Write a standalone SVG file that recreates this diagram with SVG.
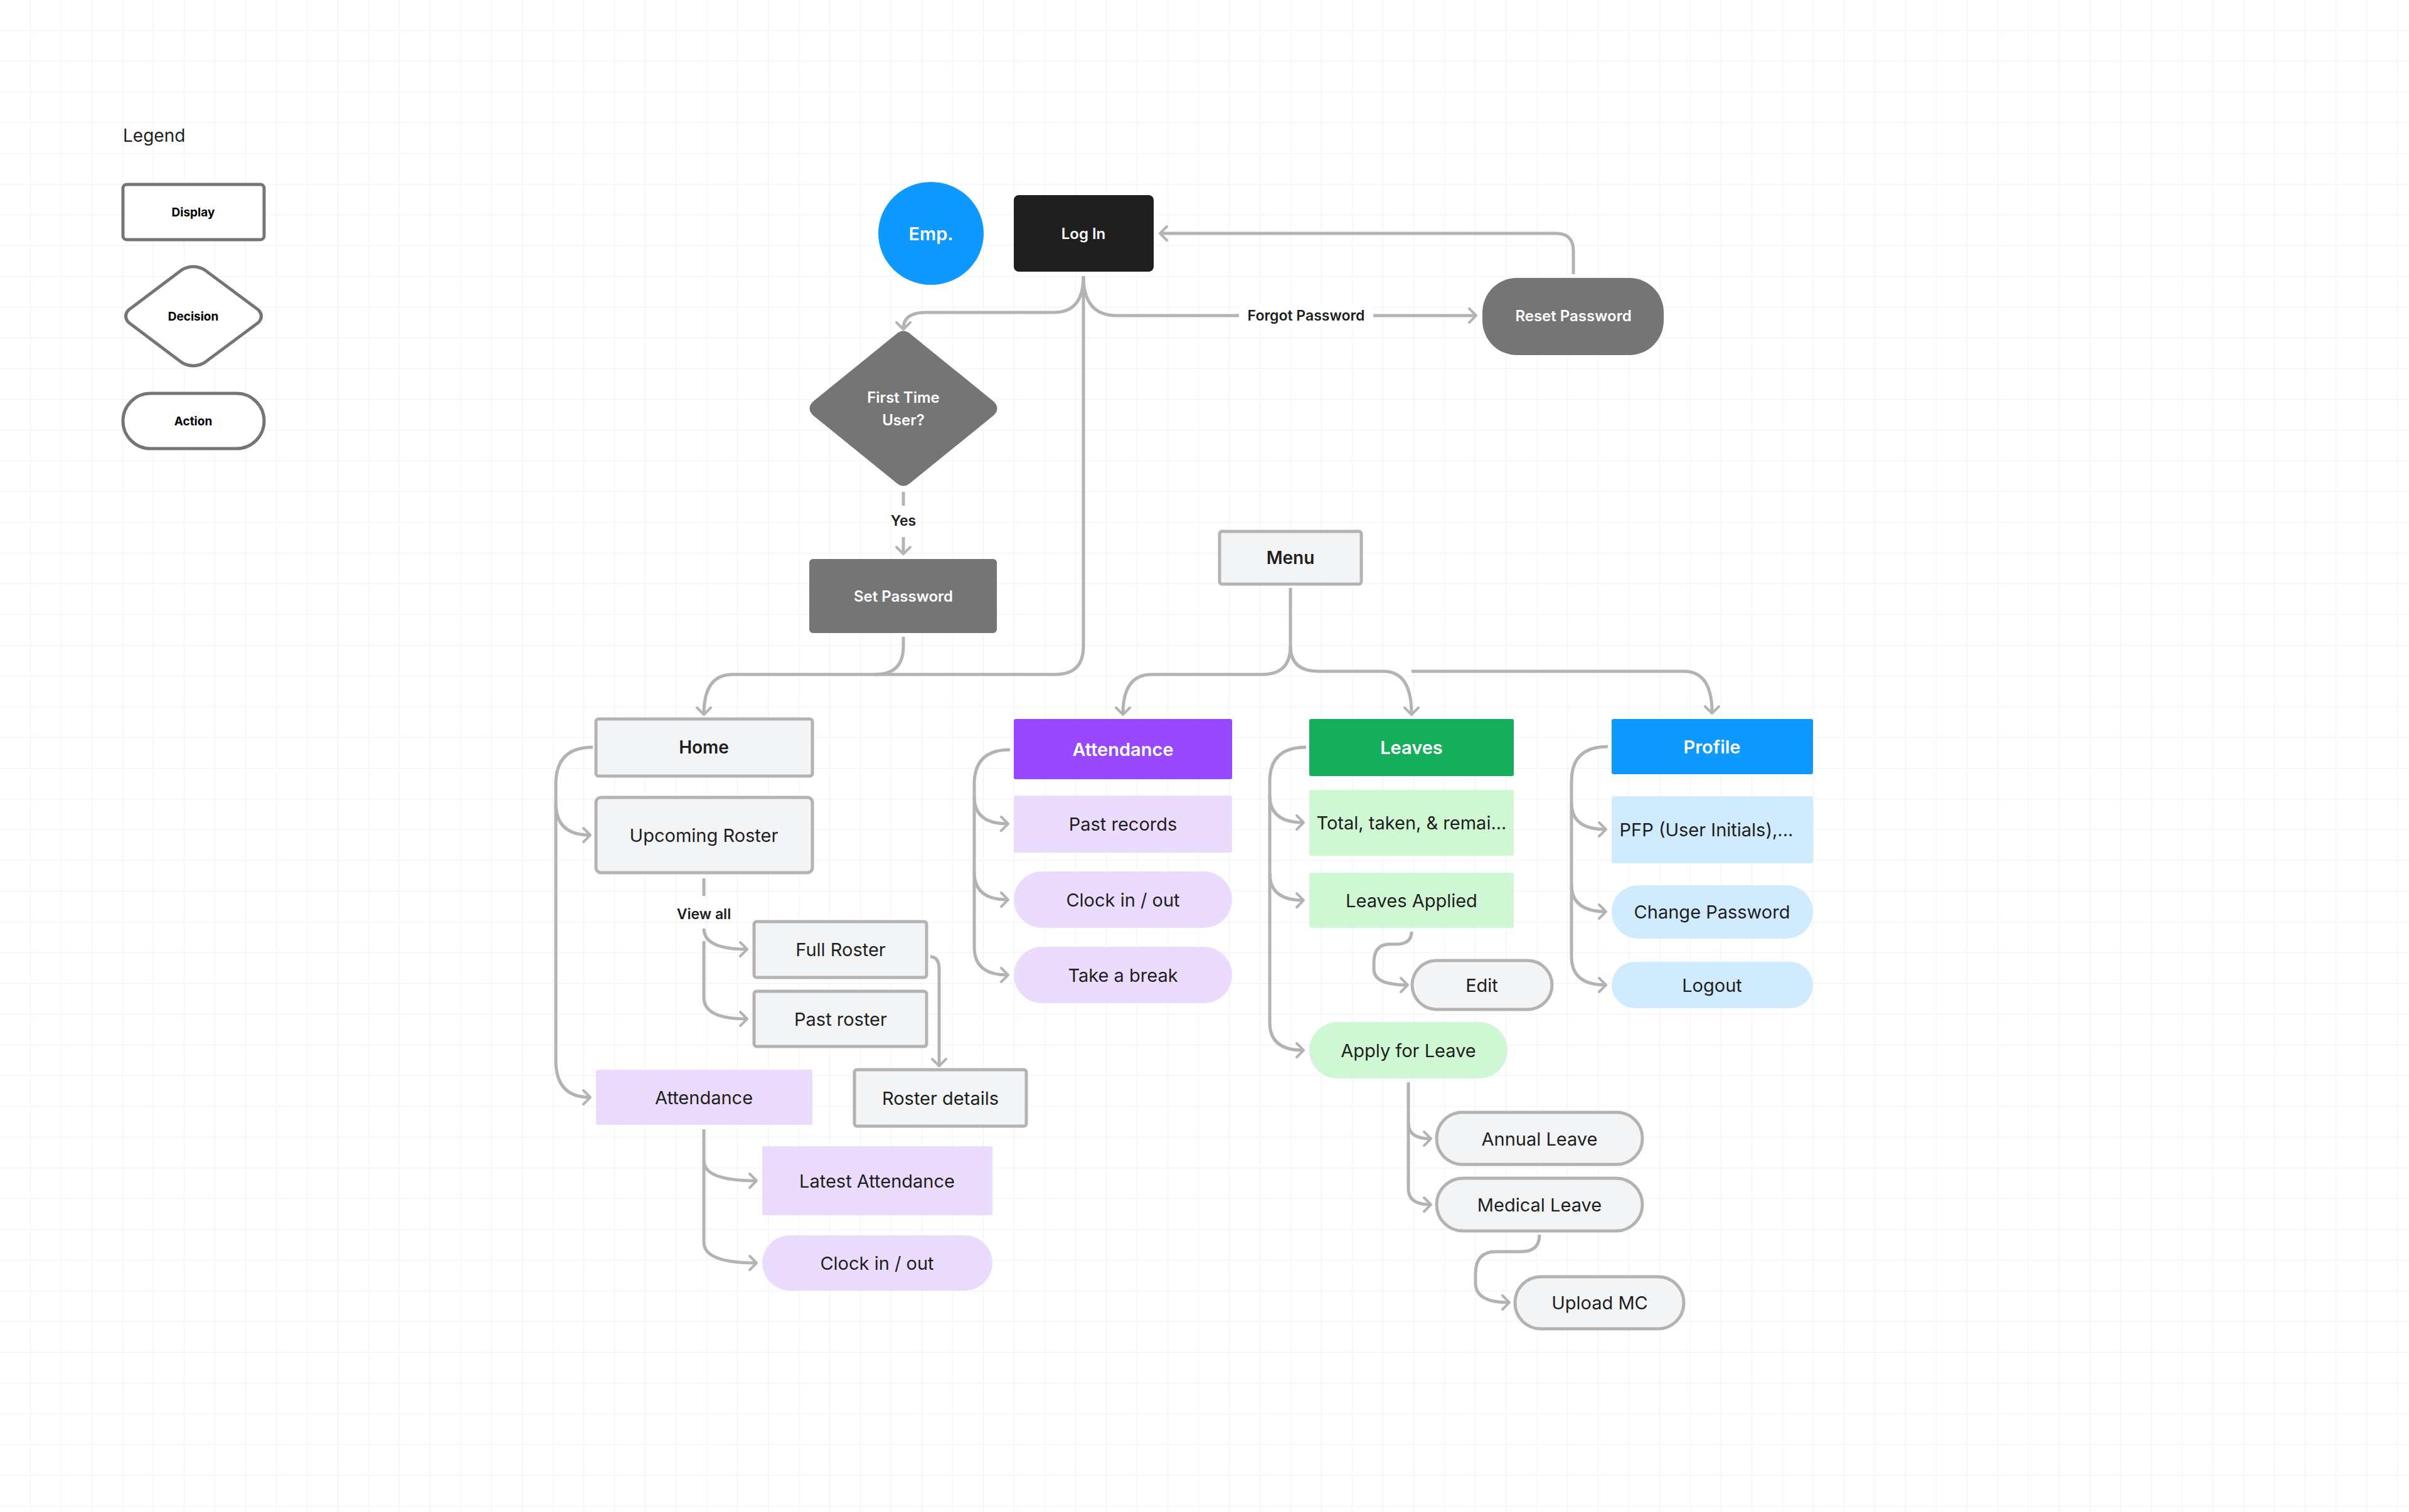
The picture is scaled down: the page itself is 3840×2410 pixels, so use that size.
<svg xmlns="http://www.w3.org/2000/svg" width="3840" height="2410" viewBox="0 0 3840 2410">
<defs>
<pattern id="grid" width="49" height="49" patternUnits="userSpaceOnUse"><path d="M49,0 V49 H0" fill="none" stroke="#f2f2f2" stroke-width="2"/></pattern>
<marker id="ar" markerWidth="30" markerHeight="30" refX="14" refY="15" orient="auto" markerUnits="userSpaceOnUse"><path d="M4,4 L15,15 L4,26" fill="none" stroke="#b3b3b3" stroke-width="4" stroke-linecap="round" stroke-linejoin="round"/></marker>
<style>
text{font-family:Inter,"Liberation Sans",sans-serif;text-anchor:middle;dominant-baseline:central}
.c{fill:none;stroke:#b3b3b3;stroke-width:5}
.ca{fill:none;stroke:#b3b3b3;stroke-width:5;marker-end:url(#ar)}
.g{fill:#f3f4f5;stroke:#b3b3b3;stroke-width:5}
.dk{fill:#757575}
.t{font-size:29px;fill:#1e1e1e}
.tb{font-size:28px;font-weight:600;fill:#1e1e1e}
.tw{font-size:24px;font-weight:600;fill:#fff}
.th{font-size:29px;font-weight:600;fill:#fff}
.lg{fill:#fff;stroke:#757575;stroke-width:5}
.lt{font-size:19px;font-weight:700;fill:#000}
.lbl{font-size:23px;font-weight:600;fill:#1e1e1e}
</style>
</defs>
<rect width="3840" height="2410" fill="#fff"/>
<rect width="3840" height="2410" fill="url(#grid)"/>

<g id="legend">
<text x="196" y="216" style="text-anchor:start;font-size:28px;fill:#1e1e1e">Legend</text>
<rect class="lg" x="196" y="294" width="225" height="88" rx="6"/><text class="lt" x="308" y="338">Display</text>
<path class="lg" d="M290,430 Q308,420 326,430 L412,494 Q421,504 412,514 L326,578 Q308,588 290,578 L205,514 Q196,504 205,494 Z"/><text class="lt" x="308" y="504">Decision</text>
<rect class="lg" x="196" y="627" width="225" height="88" rx="44"/><text class="lt" x="308" y="671">Action</text>
</g>

<g id="connectors">
<path class="ca" d="M2508,437 V400 Q2508,372 2480,372 H1850"/>
<path class="ca" d="M1727,440 Q1727,498 1680,498 H1476 Q1440,498 1440,524"/>
<path class="ca" d="M1727,440 Q1727,503 1780,503 H2352"/>
<path class="c" d="M1440,784 V806"/>
<path class="ca" d="M1440,856 V882"/>
<path class="ca" d="M1727,440 V1030 Q1727,1075 1682,1075 H1168 Q1122,1075 1122,1138"/>
<path class="c" d="M1440,1015 V1030 Q1440,1075 1395,1075"/>
<path class="ca" d="M2057,937 V1030 Q2057,1075 2012,1075 H1836 Q1790,1075 1790,1138"/>
<path class="ca" d="M2057,1030 Q2057,1070 2102,1070 H2205 Q2250,1070 2250,1138"/>
<path class="ca" d="M2250,1070 H2684 Q2729,1070 2729,1136"/>
<path class="ca" d="M945,1191 Q886,1191 886,1250 V1690 Q886,1749 940,1749"/>
<path class="ca" d="M886,1280 Q886,1331 940,1331"/>
<path class="c" d="M1122,1400 V1428"/>
<path class="ca" d="M1122,1482 V1480 Q1122,1513 1190,1513"/>
<path class="ca" d="M1122,1500 V1590 Q1122,1624 1190,1624"/>
<path class="ca" d="M1483,1525 Q1497,1525 1497,1545 V1698"/>
<path class="ca" d="M1122,1800 V1850 Q1122,1882 1205,1882"/>
<path class="ca" d="M1122,1850 V1980 Q1122,2013 1205,2013"/>
<path class="ca" d="M1610,1195 Q1553,1195 1553,1250 V1510 Q1553,1554 1606,1554"/>
<path class="ca" d="M1553,1270 Q1553,1313 1606,1313"/>
<path class="ca" d="M1553,1390 Q1553,1434 1606,1434"/>
<path class="ca" d="M2082,1191 Q2024,1191 2024,1245 V1630 Q2024,1674 2077,1674"/>
<path class="ca" d="M2024,1268 Q2024,1311 2077,1311"/>
<path class="ca" d="M2024,1392 Q2024,1435 2077,1435"/>
<path class="ca" d="M2250,1485 Q2250,1505 2225,1505 H2215 Q2190,1505 2190,1535 V1545 Q2190,1570 2243,1570"/>
<path class="ca" d="M2245,1725 V1790 Q2245,1815 2280,1815"/>
<path class="ca" d="M2245,1790 V1895 Q2245,1920 2280,1920"/>
<path class="ca" d="M2454,1968 Q2454,1995 2425,1995 H2385 Q2352,1995 2352,2030 V2045 Q2352,2076 2405,2076"/>
<path class="ca" d="M2563,1190 Q2505,1190 2505,1245 V1525 Q2505,1570 2559,1570"/>
<path class="ca" d="M2505,1280 Q2505,1322 2559,1322"/>
<path class="ca" d="M2505,1410 Q2505,1453 2559,1453"/>
<rect x="1975" y="485" width="214" height="36" fill="#fff"/>
<text class="lbl" x="2082" y="503">Forgot Password</text>
<text class="lbl" x="1440" y="830">Yes</text>
<text class="lbl" x="1122" y="1457">View all</text>
</g>

<g id="emp"><ellipse cx="1484" cy="372" rx="84" ry="82" fill="#0d99ff"/><text class="th" x="1484" y="372">Emp.</text></g>
<g id="login"><rect x="1616" y="311" width="223" height="122" rx="8" fill="#1e1e1e"/><text class="tw" x="1727" y="372">Log In</text></g>
<g id="reset"><rect class="dk" x="2363" y="443" width="289" height="123" rx="55"/><text class="tw" x="2508" y="503">Reset Password</text></g>
<g id="firsttime"><path class="dk" d="M1428,533 Q1440,522 1452,533 L1584,640 Q1595,651 1584,662 L1452,769 Q1440,780 1428,769 L1296,662 Q1285,651 1296,640 Z"/><text class="tw" x="1440" y="633">First Time</text><text class="tw" x="1440" y="669">User?</text></g>
<g id="setpw"><rect class="dk" x="1290" y="891" width="299" height="118" rx="6"/><text class="tw" x="1440" y="950">Set Password</text></g>
<g id="menu"><rect class="g" x="1944" y="847" width="226" height="84" rx="4"/><text class="tb" x="2057" y="889">Menu</text></g>

<g id="home"><rect class="g" x="950" y="1146" width="345" height="91" rx="4"/><text class="tb" x="1122" y="1191">Home</text></g>
<g id="upcoming"><rect class="g" x="950" y="1271" width="345" height="120" rx="8"/><text class="t" x="1122" y="1331">Upcoming Roster</text></g>
<g id="fullroster"><rect class="g" x="1202" y="1469" width="275" height="89" rx="4"/><text class="t" x="1340" y="1513">Full Roster</text></g>
<g id="pastroster"><rect class="g" x="1202" y="1580" width="275" height="88" rx="4"/><text class="t" x="1340" y="1624">Past roster</text></g>
<g id="rosterdetails"><rect class="g" x="1362" y="1705" width="274" height="90" rx="4"/><text class="t" x="1499" y="1750">Roster details</text></g>
<g id="homeatt"><rect x="950" y="1705" width="345" height="88" rx="3" fill="#ebdcfd"/><text class="t" x="1122" y="1749">Attendance</text></g>
<g id="latest"><rect x="1215" y="1827" width="367" height="110" rx="3" fill="#ebdcfd"/><text class="t" x="1398" y="1882">Latest Attendance</text></g>
<g id="homeclock"><rect x="1215" y="1969" width="367" height="88" rx="44" fill="#ebdcfd"/><text class="t" x="1398" y="2013">Clock in / out</text></g>

<g id="attendance"><rect x="1616" y="1146" width="348" height="96" rx="3" fill="#9747ff"/><text class="th" x="1790" y="1194">Attendance</text></g>
<g id="pastrecords"><rect x="1616" y="1268" width="348" height="91" rx="3" fill="#ebdcfd"/><text class="t" x="1790" y="1313">Past records</text></g>
<g id="clock"><rect x="1616" y="1389" width="348" height="90" rx="45" fill="#ebdcfd"/><text class="t" x="1790" y="1434">Clock in / out</text></g>
<g id="break"><rect x="1616" y="1509" width="348" height="90" rx="45" fill="#ebdcfd"/><text class="t" x="1790" y="1554">Take a break</text></g>

<g id="leaves"><rect x="2087" y="1146" width="326" height="91" rx="3" fill="#14ae5c"/><text class="th" x="2250" y="1191">Leaves</text></g>
<g id="total"><rect x="2087" y="1259" width="326" height="105" rx="3" fill="#cff7d3"/><text class="t" x="2250" y="1311">Total, taken, &amp; remai...</text></g>
<g id="applied"><rect x="2087" y="1391" width="326" height="88" rx="3" fill="#cff7d3"/><text class="t" x="2250" y="1435">Leaves Applied</text></g>
<g id="edit"><rect class="g" x="2251" y="1531" width="223" height="78" rx="39"/><text class="t" x="2362" y="1570">Edit</text></g>
<g id="apply"><rect x="2087" y="1629" width="316" height="90" rx="45" fill="#cff7d3"/><text class="t" x="2245" y="1674">Apply for Leave</text></g>
<g id="annual"><rect class="g" x="2290" y="1773" width="328" height="83" rx="41"/><text class="t" x="2454" y="1815">Annual Leave</text></g>
<g id="medical"><rect class="g" x="2290" y="1878" width="328" height="84" rx="42"/><text class="t" x="2454" y="1920">Medical Leave</text></g>
<g id="upload"><rect class="g" x="2415" y="2035" width="269" height="83" rx="41"/><text class="t" x="2550" y="2076">Upload MC</text></g>

<g id="profile"><rect x="2569" y="1146" width="321" height="88" rx="3" fill="#0d99ff"/><text class="th" x="2729" y="1190">Profile</text></g>
<g id="pfp"><rect x="2569" y="1269" width="321" height="107" rx="3" fill="#d1ebfe"/><text class="t" x="2720" y="1322">PFP (User Initials),...</text></g>
<g id="changepw"><rect x="2569" y="1411" width="321" height="85" rx="42" fill="#d1ebfe"/><text class="t" x="2729" y="1453">Change Password</text></g>
<g id="logout"><rect x="2569" y="1533" width="321" height="74" rx="37" fill="#d1ebfe"/><text class="t" x="2729" y="1570">Logout</text></g>
</svg>
